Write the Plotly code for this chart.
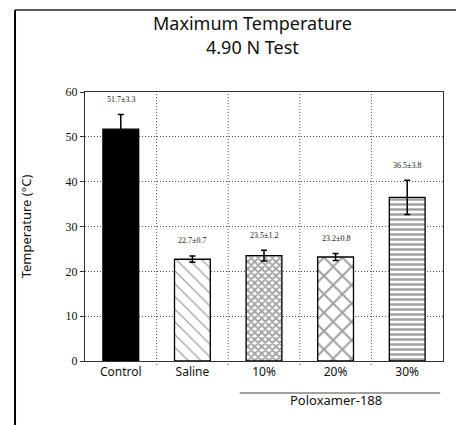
import plotly.graph_objects as go

categories = ["Control", "Saline", "10%", "20%", "30%"]
means = [51.7, 22.7, 23.5, 23.2, 36.5]
errors = [3.3, 0.7, 1.2, 0.8, 3.8]
value_labels = ["51.7±3.3", "22.7±0.7", "23.5±1.2", "23.2±0.8", "36.5±3.8"]
y_ticks = [0, 10, 20, 30, 40, 50, 60]
title_lines = ["Maximum Temperature", "4.90 N Test"]
group_label = "Poloxamer-188"

patterns = [
    dict(shape="", fgcolor="black", bgcolor="black"),
    dict(shape="\\", fgcolor="#333333", bgcolor="white", size=9, solidity=0.14),
    dict(shape="x", fgcolor="black", bgcolor="white", size=5, solidity=0.6),
    dict(shape="x", fgcolor="black", bgcolor="white", size=13, solidity=0.3),
    dict(shape="-", fgcolor="black", bgcolor="white", size=5, solidity=0.5),
]
colors = ["black", "white", "white", "white", "white"]

fig = go.Figure()
fig.add_trace(go.Bar(
    x=categories, y=means,
    width=0.5,
    marker=dict(color=colors, line=dict(color="black", width=1.3),
                pattern=dict(
                    shape=[p["shape"] for p in patterns],
                    fgcolor=[p["fgcolor"] for p in patterns],
                    bgcolor=[p["bgcolor"] for p in patterns],
                    size=[p.get("size", 8) for p in patterns],
                    solidity=[p.get("solidity", 0.3) for p in patterns],
                )),
    error_y=dict(type="data", array=errors, visible=True, color="black",
                 thickness=1.5, width=3),
    showlegend=False,
))

serif = "Liberation Serif, serif"
sans = "Noto Sans, sans-serif"

for i, (m, e, t) in enumerate(zip(means, errors, value_labels)):
    fig.add_annotation(x=i, y=m + e + 3.4, text=t, showarrow=False,
                       font=dict(family=serif, size=8, color="#222"),
                       xref="x", yref="y")

# title as two centred lines
for line, yp in zip(title_lines, [1.257, 1.166]):
    fig.add_annotation(x=0.469, y=yp, xref="paper", yref="paper", text=line,
                       showarrow=False, xanchor="center", yanchor="middle",
                       font=dict(family=sans, size=18, color="#111"))

shapes = []
for i in range(len(categories) - 1):
    shapes.append(dict(type="line", xref="x", yref="paper",
                       x0=i + 0.5, x1=i + 0.5, y0=-0.015, y1=1,
                       line=dict(color="#555", width=1, dash="1px,2px")))
# group underline
shapes.append(dict(type="line", xref="x", yref="paper",
                   x0=1.66, x1=4.46, y0=-0.119, y1=-0.119,
                   line=dict(color="#444", width=1)))
# outer frame (left + top)
shapes.append(dict(type="line", xref="paper", yref="paper",
                   x0=-0.1955, x1=-0.1955, y0=1.305, y1=-0.25,
                   line=dict(color="black", width=2)))
shapes.append(dict(type="line", xref="paper", yref="paper",
                   x0=-0.1955, x1=1.06, y0=1.305, y1=1.305,
                   line=dict(color="#222", width=1.5)))

fig.add_annotation(x=3, y=-0.186, xref="x", yref="paper", text=group_label,
                   showarrow=False, font=dict(family=sans, size=13, color="#111"))

fig.update_layout(
    width=456, height=417,
    margin=dict(l=77, r=21, t=84, b=64),
    paper_bgcolor="white", plot_bgcolor="white",
    shapes=shapes,
    bargap=0.5,
)
fig.update_xaxes(showgrid=False, showline=True, linecolor="#333", linewidth=1,
                 mirror=True, ticks="", tickfont=dict(family=sans, size=12, color="#111"),
                 range=[-0.5, 4.5])
fig.update_yaxes(range=[0, 60], tickvals=y_ticks, showgrid=True, gridcolor="#555",
                 griddash="1px,2px", gridwidth=1, showline=True, linecolor="#333",
                 linewidth=1.2, mirror=True, ticks="outside", ticklen=4,
                 tickcolor="#333", tickfont=dict(family=serif, size=12, color="#111"),
                 zeroline=False,
                 title=dict(text="Temperature (°C)", standoff=30,
                            font=dict(family=sans, size=13, color="#111")))

fig.write_html("out.html")
